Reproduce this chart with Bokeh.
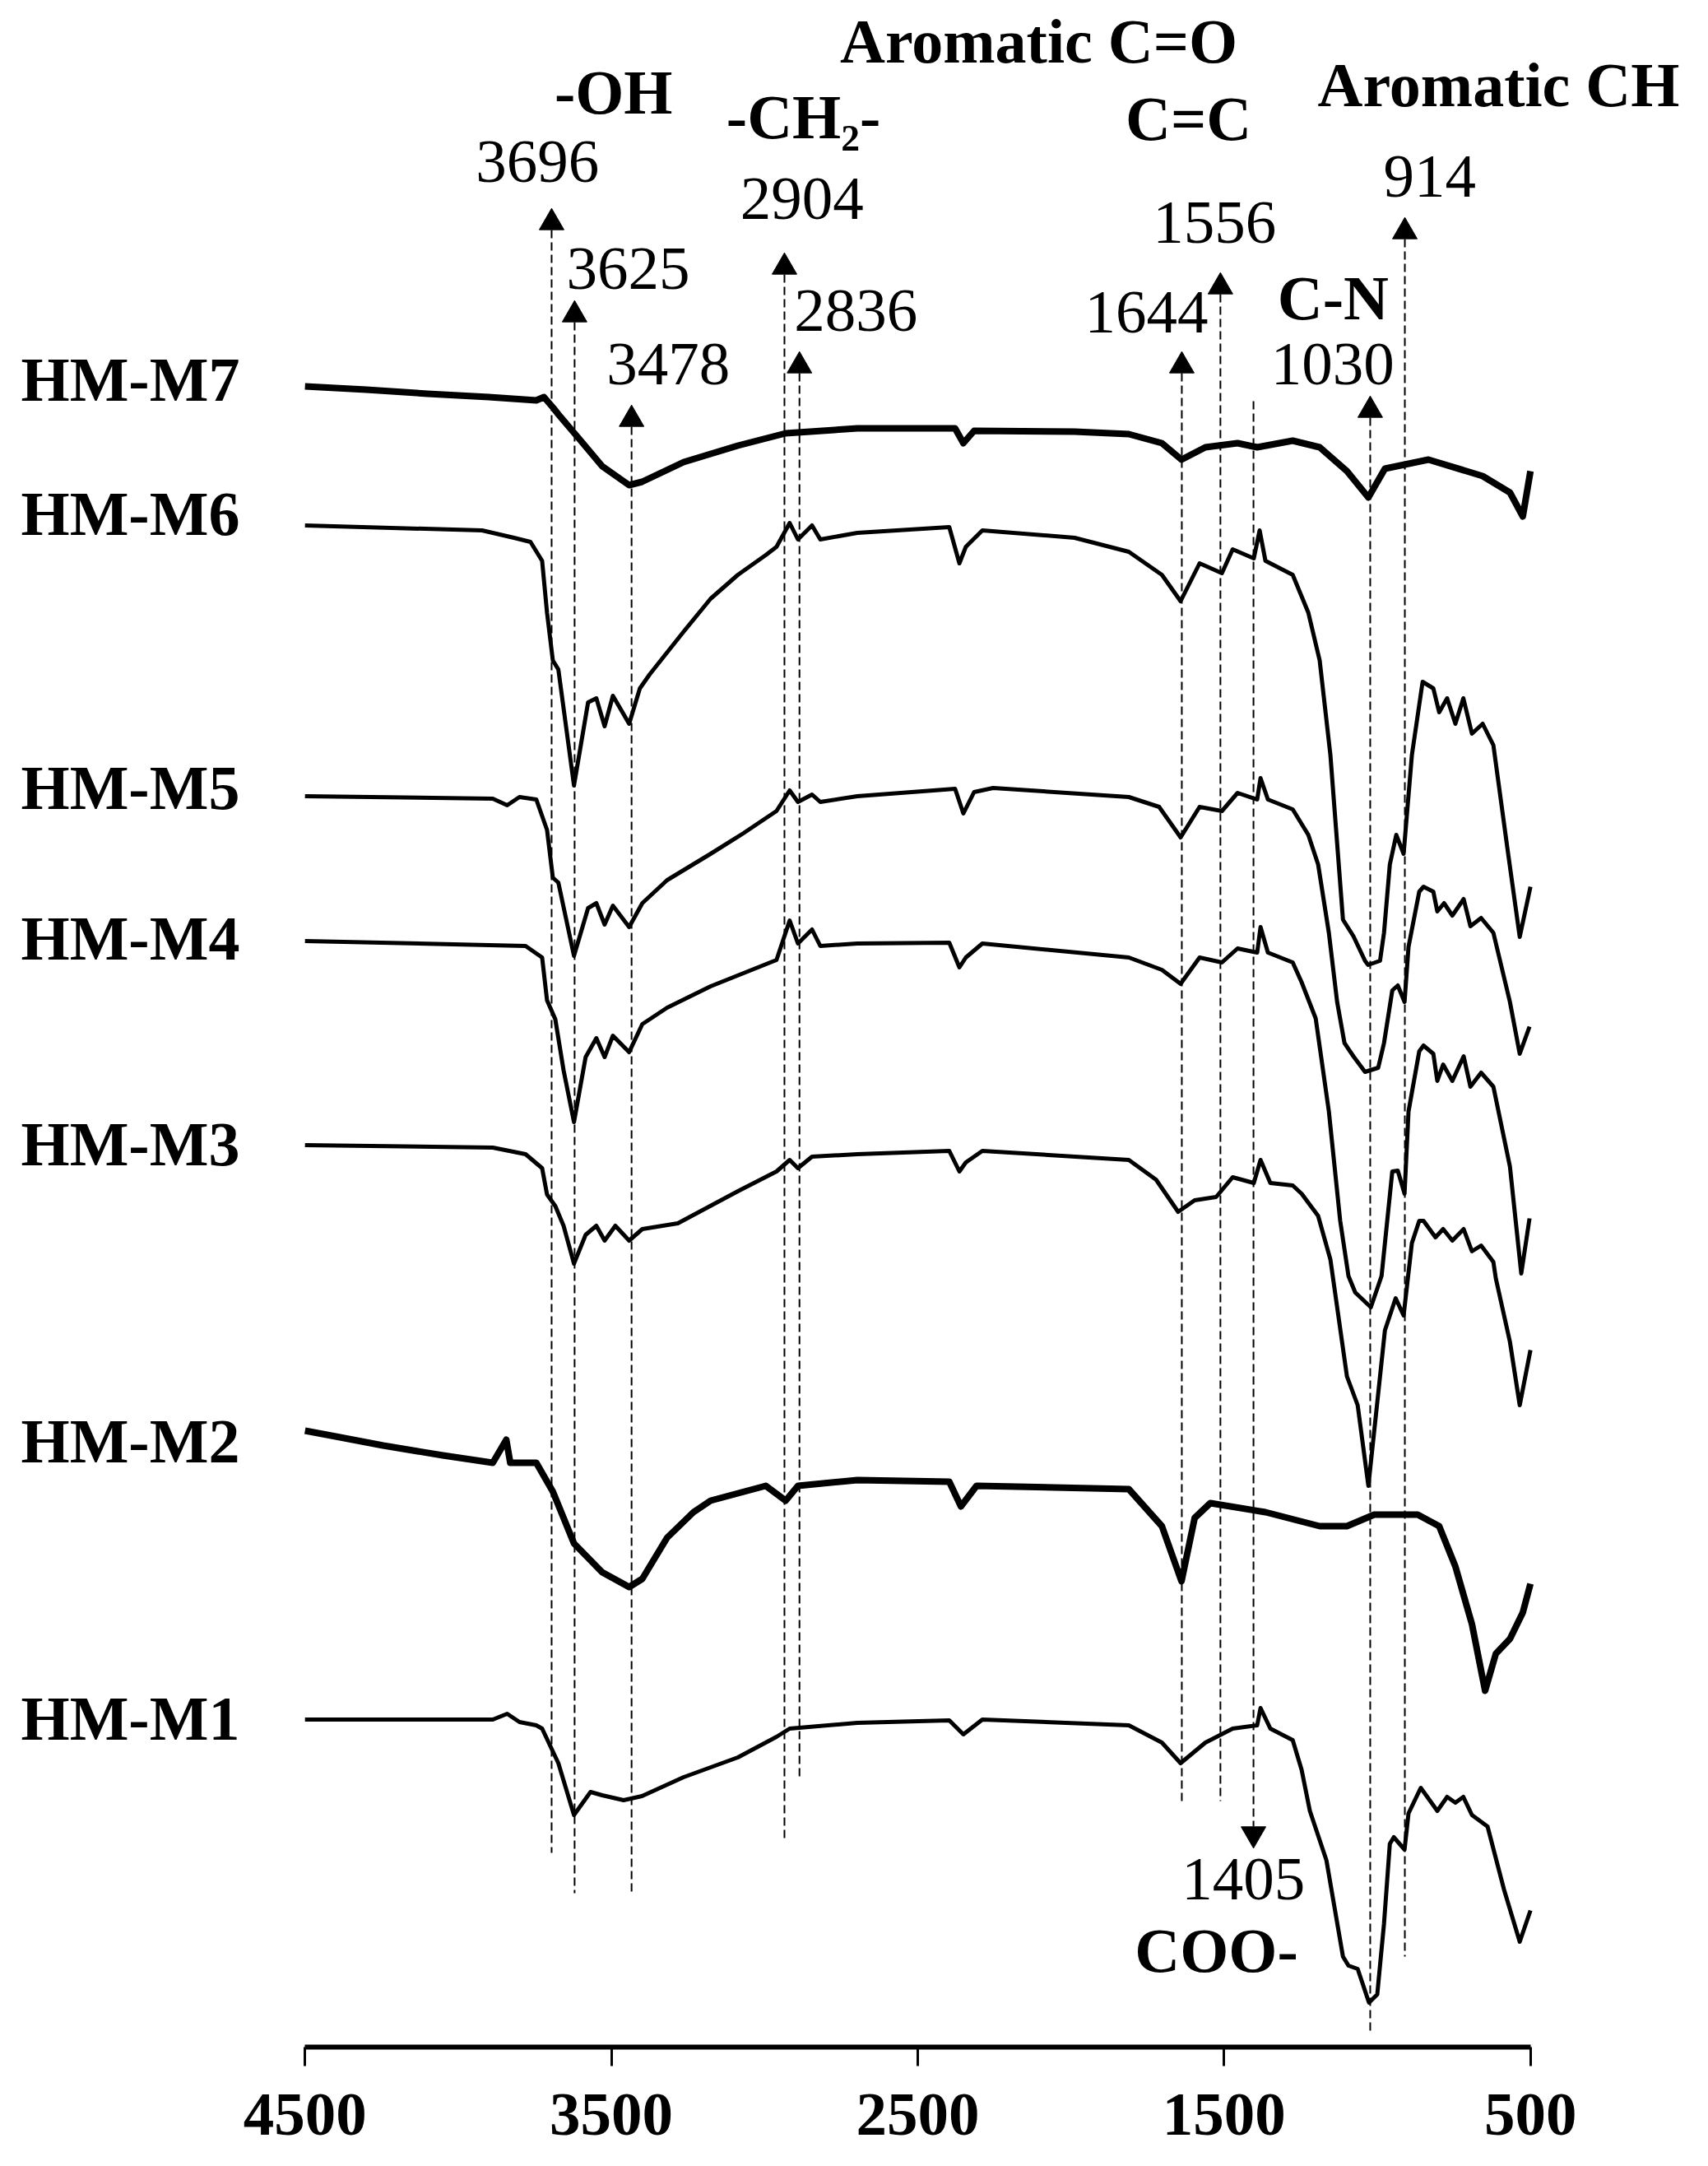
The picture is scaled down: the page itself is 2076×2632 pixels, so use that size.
from bokeh.plotting import figure
from bokeh.models import Range1d, FixedTicker
from bokeh.core.properties import value
from bokeh.embed import file_html
from bokeh.resources import INLINE

# ---------------- data (wavenumber cm-1, offset transmittance a.u.) ----------------
m7_wn = [4500, 4300, 4100, 3900, 3745, 3720, 3690, 3673, 3600, 3530, 3442, 3400, 3264, 3087, 2931, 2697,
         2378, 2351, 2316, 1988, 1811, 1703, 1639, 1561, 1456, 1392, 1276, 1188, 1099, 1029, 975, 833,
         656, 567, 525, 500]
m7_y = [201.8, 201.4, 200.9, 200.5, 200.1, 200.5, 199.2, 198.4, 195.2, 192.1, 189.8, 190.2, 192.6, 194.6, 196.1, 196.7,
        196.7, 194.9, 196.4, 196.3, 196.0, 194.9, 192.9, 194.4, 194.9, 194.4, 195.2, 194.4, 191.5, 188.3, 191.8, 192.9,
        190.9, 188.9, 186.0, 191.5]

m6_wn = [4500, 3922, 3818, 3764, 3726, 3710, 3691, 3673, 3622, 3576, 3549, 3522, 3495, 3442, 3407, 3375, 3326, 3264,
         3176, 3087, 2996, 2961, 2918, 2891, 2845, 2818, 2697, 2397, 2364, 2343, 2289, 1988, 1811, 1703, 1642, 1580,
         1507, 1472, 1403, 1384, 1365, 1276, 1225, 1188, 1153, 1112, 1078, 1040, 1030, 991, 978, 959, 938, 914,
         887, 852, 817, 798, 772, 745, 719, 691, 656, 621, 575, 535, 500]
m6_y = [184.9, 184.3, 183.4, 182.9, 180.6, 174.3, 168.5, 167.4, 153.3, 163.4, 163.9, 160.5, 164.2, 160.8, 165.1, 166.8, 169.1, 172.0,
        176.0, 178.9, 181.3, 182.3, 185.2, 183.2, 184.9, 183.2, 184.0, 184.7, 180.3, 182.3, 184.3, 183.4, 181.7, 178.9, 175.7, 180.3,
        179.1, 182.0, 180.9, 184.3, 180.6, 178.9, 174.3, 168.5, 157.0, 137.0, 135.0, 132.0, 131.5, 132.0, 135.4, 143.7, 147.3, 145.0,
        157.0, 165.9, 165.1, 162.2, 163.9, 160.8, 163.9, 159.6, 160.8, 158.2, 145.6, 134.9, 141.0]

m5_wn = [4500, 3887, 3840, 3800, 3745, 3710, 3691, 3673, 3622, 3576, 3549, 3522, 3495, 3442, 3399, 3318, 3176, 3069,
         2961, 2918, 2891, 2845, 2818, 2697, 2378, 2351, 2316, 2254, 1811, 1712, 1642, 1580, 1507, 1456, 1392,
         1381, 1357, 1276, 1225, 1193, 1158, 1131, 1107, 1078, 1040, 997, 978, 951, 933, 911, 898, 863, 849,
         817, 804, 782, 755, 718, 696, 661, 621, 567, 535, 503]
m5_y = [152.0, 151.7, 150.9, 151.9, 151.6, 147.9, 142.1, 141.5, 132.6, 138.4, 139.0, 136.4, 138.7, 136.1, 139.0, 141.8, 145.0, 147.5,
        150.2, 152.7, 151.3, 152.2, 151.3, 152.0, 152.9, 149.9, 152.5, 153.0, 151.9, 150.7, 147.0, 150.7, 150.2, 152.4, 151.6,
        154.2, 151.6, 150.4, 147.3, 143.7, 135.4, 127.0, 122.0, 120.4, 118.5, 119.0, 122.0, 128.4, 129.0, 127.0, 133.7, 140.4, 141.0,
        140.4, 138.0, 139.0, 137.5, 139.5, 136.2, 137.2, 135.4, 127.0, 120.7, 124.0]

m4_wn = [4500, 3780, 3726, 3710, 3683, 3656, 3622, 3584, 3549, 3522, 3495, 3442, 3399, 3318, 3176, 2961, 2918,
         2891, 2845, 2818, 2697, 2397, 2364, 2343, 2289, 1811, 1703, 1642, 1580, 1507, 1456, 1392, 1381, 1357,
         1276, 1247, 1201, 1158, 1121, 1094, 1072, 1021, 986, 951, 933, 911, 898, 863, 849, 817, 804, 785,
         755, 718, 696, 661, 621, 567, 530, 503]
m4_y = [134.4, 133.8, 132.4, 127.2, 124.9, 118.7, 112.4, 120.3, 122.6, 120.3, 122.9, 120.9, 124.3, 126.3, 128.9, 132.1, 136.9,
        134.1, 135.8, 133.8, 134.1, 134.2, 131.2, 132.4, 134.1, 132.4, 130.9, 129.2, 132.4, 131.8, 133.5, 133.0, 136.1, 133.0,
        131.8, 129.4, 125.0, 113.7, 100.4, 93.7, 91.7, 89.9, 93.7, 106.4, 106.5, 103.7, 113.7, 121.0, 121.7, 120.7, 117.4, 119.4,
        117.4, 120.4, 116.7, 118.4, 116.7, 107.0, 94.0, 100.7]

m3_wn = [4500, 3887, 3780, 3726, 3710, 3683, 3656, 3622, 3584, 3549, 3522, 3487, 3442, 3399, 3283, 3087, 2961,
         2918, 2891, 2845, 2697, 2397, 2364, 2343, 2289, 1811, 1722, 1650, 1596, 1526, 1472, 1403, 1381, 1349,
         1276, 1247, 1193, 1153, 1099, 1064, 1029, 975, 940, 914, 887, 863, 849, 810, 785, 755, 718, 691,
         661, 621, 613, 567, 535, 500]
m3_y = [109.6, 109.3, 108.5, 106.8, 103.6, 102.2, 99.8, 95.2, 98.7, 99.8, 98.0, 99.8, 98.0, 99.4, 100.1, 104.0, 106.4,
        107.8, 106.8, 108.2, 108.5, 108.9, 106.4, 107.5, 108.9, 107.8, 105.4, 101.5, 102.9, 103.3, 105.7, 105.0, 107.8, 105.0,
        104.7, 103.7, 101.0, 95.7, 81.5, 78.0, 68.2, 87.1, 91.0, 88.9, 97.7, 100.4, 100.4, 98.4, 99.4, 98.0, 99.4, 96.7,
        97.4, 95.4, 93.4, 85.7, 78.0, 84.7]

m2_wn = [4500, 4400, 4245, 4050, 3887, 3843, 3830, 3745, 3691, 3622, 3530, 3442, 3399, 3318, 3232, 3176, 2996, 2931,
         2891, 2697, 2397, 2359, 2308, 1811, 1703, 1639, 1596, 1545, 1365, 1188, 1099, 1010, 868, 798, 745,
         691, 648, 613, 567, 525, 500]
m2_y = [74.9, 74.2, 73.1, 71.9, 71.0, 73.8, 71.0, 71.0, 67.5, 61.2, 57.7, 55.9, 56.9, 61.9, 65.0, 66.4, 68.2, 66.4,
        68.2, 68.9, 68.7, 65.7, 68.2, 67.8, 63.3, 56.6, 64.3, 66.1, 65.0, 63.3, 63.3, 64.7, 64.7, 63.3, 58.4,
        51.4, 43.3, 47.8, 49.6, 52.8, 56.3]

m1_wn = [4500, 3887, 3840, 3800, 3745, 3726, 3673, 3622, 3568, 3530, 3460, 3400, 3264, 3087, 2961, 2918, 2697,
         2397, 2351, 2289, 1811, 1703, 1642, 1561, 1472, 1392, 1381, 1349, 1276, 1247, 1220, 1166, 1112, 1094,
         1064, 1027, 1000, 978, 959, 946, 911, 898, 858, 804, 772, 745, 719, 691, 640, 586, 535, 500]
m1_y = [39.8, 39.8, 40.5, 39.5, 39.1, 38.7, 34.5, 28.2, 31.0, 30.6, 30.0, 30.5, 32.8, 35.2, 37.7, 38.7, 39.4,
        39.7, 38.0, 39.8, 39.1, 37.0, 34.5, 37.0, 38.7, 39.1, 41.2, 38.7, 37.3, 33.7, 28.7, 22.7, 11.0, 9.9,
        9.5, 5.4, 6.4, 15.0, 24.7, 25.5, 24.0, 28.4, 31.5, 28.7, 30.4, 29.7, 30.4, 28.2, 26.8, 19.1, 12.8, 16.6]

series_names = ["HM-M7", "HM-M6", "HM-M5", "HM-M4", "HM-M3", "HM-M2", "HM-M1"]
series_wn = [m7_wn, m6_wn, m5_wn, m4_wn, m3_wn, m2_wn, m1_wn]
series_y = [m7_y, m6_y, m5_y, m4_y, m3_y, m2_y, m1_y]
series_noisy = [True, False, False, False, False, True, False]

tick_values = [4500, 3500, 2500, 1500, 500]

# peak marker lines (drawn position, top, bottom) and their labels
peak_labels = ["3696", "3625", "3478", "2904", "2836", "1644", "1556", "1030", "914"]
peak_wn = [3695, 3620, 3434, 2935, 2886, 1638, 1512, 1023, 910]
peak_top = [220.8, 209.6, 196.9, 215.4, 203.4, 203.4, 213.0, 198.0, 219.7]
peak_bottom = [23.6, 18.7, 18.7, 25.0, 32.4, 29.9, 29.9, 2.0, 11.0]
coo_label = "1405"
coo_wn = 1404

group_labels = ["-OH", "-CH\u2082-", "Aromatic C=O", "C=C", "Aromatic CH", "C-N", "COO-"]

# ---------------- figure ----------------
SERIF = "Liberation Serif"
TXT = 2.7  # baseline correction for text glyphs
p = figure(width=2060, height=2628,
           x_range=Range1d(5494.2, -37.9), y_range=Range1d(0, 248.7),
           output_backend="svg", toolbar_location=None, y_axis_location=None,
           min_border_left=0, min_border_right=0, min_border_top=0, min_border_bottom=141)
p.outline_line_color = None
p.xgrid.visible = False
p.ygrid.visible = False

ax = p.xaxis[0]
ax.ticker = FixedTicker(ticks=tick_values)
ax.bounds = (500, 4500)
ax.axis_line_width = 6
ax.axis_line_color = "black"
ax.major_tick_line_width = 3
ax.major_tick_out = 23
ax.major_tick_in = 0
ax.minor_tick_out = 0
ax.minor_tick_in = 0
ax.major_label_text_font = SERIF
ax.major_label_text_font_size = "75px"
ax.major_label_text_font_style = "bold"
ax.major_label_text_color = "black"
ax.major_label_standoff = 34

# dashed guide lines
p.segment(x0=peak_wn, y0=peak_top, x1=peak_wn, y1=peak_bottom,
          line_color="black", line_width=2, line_dash="10 5")
p.segment(x0=[coo_wn], y0=[200.0], x1=[coo_wn], y1=[26.8],
          line_color="black", line_width=2, line_dash="10 5")

# arrow heads
tri_y = [221.7, 210.5, 197.8, 216.3, 204.3, 204.3, 213.9, 198.9, 220.6]
p.scatter(x=peak_wn, y=tri_y, marker="triangle", size=30, color="black")
p.scatter(x=[coo_wn], y=[25.9], marker="inverted_triangle", size=30, color="black")

# spectra
for wn, yy, noisy in zip(series_wn, series_y, series_noisy):
    p.line(wn, yy, line_color="black", line_width=8 if noisy else 5, line_join="round")

# series labels
label_y = [200.0, 183.7, 150.4, 132.1, 107.1, 71.0, 37.3]
p.text(x=[5427] * len(series_names), y=[v + TXT for v in label_y], text=series_names,
       text_font=value(SERIF), text_font_size=value("76px"), text_font_style="bold",
       text_align="left", text_baseline="alphabetic", text_color="black")

# peak number labels
num_x = [3741, 3445, 3314, 2878, 2702, 1753, 1531, 1146, 829, 1437]
num_y = [226.4, 213.4, 201.8, 221.9, 208.3, 208.1, 219.0, 201.8, 224.6, 17.7]
p.text(x=num_x, y=[v + TXT for v in num_y], text=peak_labels + [coo_label],
       text_font=value(SERIF), text_font_size=value("75px"),
       text_align="center", text_baseline="alphabetic", text_color="black")

# functional group labels
grp_x = [3493, 2873, 2105, 1616, 604, 1144, 1525]
grp_y = [234.9, 231.9, 241.1, 231.7, 235.8, 209.9, 9.1]
p.text(x=grp_x, y=[v + TXT for v in grp_y], text=group_labels,
       text_font=value(SERIF), text_font_size=value("76px"), text_font_style="bold",
       text_align="center", text_baseline="alphabetic", text_color="black")

open("out.html", "w").write(file_html(p, INLINE))
